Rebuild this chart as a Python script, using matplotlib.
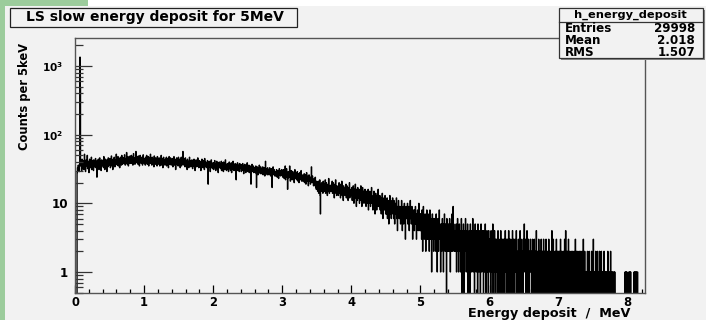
import numpy as np
import matplotlib
matplotlib.use('Agg')
import matplotlib.pyplot as plt
from matplotlib.patches import Rectangle
from matplotlib.lines import Line2D
from matplotlib.ticker import LogLocator, NullFormatter, FixedLocator

plt.rcParams['font.family'] = ['DejaVu Sans']
plt.rcParams['font.weight'] = 'bold'
plt.rcParams['mathtext.fontset'] = 'custom'
plt.rcParams['mathtext.rm'] = 'DejaVu Sans:bold'
plt.rcParams['mathtext.bf'] = 'DejaVu Sans:bold'
plt.rcParams['mathtext.it'] = 'DejaVu Sans:bold'

# ---------------- data (counts per 5 keV bin) ----------------
bin_width = 0.005
x_min, x_max = 0.0, 8.25
y_min, y_max = 0.494, 2560

counts_0_1 = [
    0, 0, 0, 0, 0, 0, 28, 33, 31, 36, 30, 34, 29, 37, 1350, 490, 35, 41, 38, 30,
    44, 36, 33, 39, 42, 31, 37, 52, 34, 38, 29, 40, 43, 36, 35, 50, 32, 39, 37, 41,
    28, 36, 44, 38, 33, 40, 35, 47, 31, 38, 42, 36, 39, 30, 43, 37, 34, 41, 38, 45,
    33, 40, 36, 24, 42, 38, 35, 44, 37, 31, 39, 46, 34, 38, 41, 30, 36, 43, 39, 35,
    42, 37, 33, 48, 36, 40, 31, 39, 44, 35, 38, 41, 29, 43, 37, 34, 46, 39, 36, 40,
    38, 45, 33, 41, 37, 49, 35, 42, 39, 31, 44, 40, 36, 47, 38, 34, 43, 41, 37, 52,
    39, 44, 36, 42, 48, 35, 40, 45, 38, 33, 43, 47, 39, 41, 36, 50, 42, 37, 44, 40,
    46, 38, 43, 51, 40, 36, 45, 42, 39, 55, 41, 37, 44, 48, 35, 42, 46, 40, 38, 49,
    41, 45, 38, 50, 43, 39, 47, 36, 44, 53, 42, 40, 46, 37, 45, 41, 57, 39, 43, 48,
    40, 44, 37, 49, 42, 46, 35, 43, 50, 39, 41, 45, 38, 47, 42, 36, 44, 51, 40, 43,
]
counts_1_2 = [
    38, 45, 41, 36, 47, 43, 39, 50, 42, 37, 44, 40, 48, 35, 43, 46, 39, 42, 52, 38,
    44, 40, 36, 47, 41, 38, 45, 43, 34, 49, 40, 42, 37, 46, 39, 44, 41, 35, 48, 42,
    39, 43, 37, 46, 40, 35, 44, 41, 38, 50, 36, 42, 39, 45, 33, 41, 47, 38, 40, 43,
    36, 44, 41, 38, 47, 35, 42, 39, 45, 40, 33, 43, 48, 37, 41, 39, 46, 42, 36, 44,
    40, 37, 45, 34, 42, 39, 48, 36, 41, 44, 38, 31, 43, 40, 46, 37, 39, 42, 35, 47,
    41, 36, 39, 44, 33, 42, 38, 47, 35, 40, 37, 43, 57, 39, 45, 36, 41, 38, 34, 46,
    39, 35, 42, 37, 31, 44, 38, 36, 41, 33, 40, 47, 35, 38, 42, 34, 39, 36, 43, 37,
    32, 41, 38, 35, 44, 37, 40, 30, 39, 36, 43, 38, 34, 41, 37, 46, 35, 39, 33, 42,
    38, 34, 41, 36, 30, 40, 37, 44, 35, 39, 33, 42, 36, 38, 31, 45, 37, 34, 40, 36,
    39, 33, 37, 42, 35, 19, 38, 36, 41, 34, 37, 29, 40, 35, 43, 33, 38, 36, 32, 39,
]
counts_2_3 = [
    36, 31, 39, 34, 42, 33, 37, 30, 38, 35, 41, 32, 36, 39, 28, 37, 34, 40, 35, 33,
    38, 32, 36, 41, 30, 35, 39, 33, 37, 29, 40, 34, 36, 31, 38, 43, 33, 35, 30, 37,
    34, 38, 31, 36, 29, 35, 40, 32, 33, 37, 30, 34, 39, 28, 35, 32, 36, 41, 31, 34,
    30, 36, 33, 38, 31, 35, 22, 37, 34, 32, 39, 30, 35, 33, 36, 29, 38, 32, 34, 37,
    33, 29, 36, 31, 34, 38, 30, 33, 27, 35, 32, 37, 30, 34, 28, 36, 33, 31, 39, 32,
    29, 34, 31, 36, 28, 33, 30, 35, 32, 19, 34, 31, 37, 29, 32, 30, 35, 28, 33, 31,
    33, 28, 31, 35, 27, 17, 30, 34, 29, 26, 33, 31, 28, 36, 30, 32, 27, 34, 29, 31,
    27, 32, 29, 34, 26, 30, 28, 33, 31, 25, 29, 41, 27, 30, 32, 28, 26, 33, 29, 31,
    30, 26, 29, 33, 27, 31, 25, 28, 32, 29, 17, 30, 27, 34, 28, 26, 31, 29, 25, 28,
    29, 25, 28, 31, 26, 24, 30, 27, 29, 23, 28, 32, 26, 27, 30, 25, 28, 26, 31, 27,
]
counts_3_4 = [
    28, 24, 27, 31, 25, 23, 29, 26, 35, 22, 27, 25, 32, 24, 28, 16, 23, 29, 25, 27,
    24, 35, 26, 21, 28, 25, 30, 27, 22, 26, 29, 23, 27, 25, 20, 26, 31, 24, 23, 28,
    26, 22, 25, 29, 23, 21, 27, 24, 20, 26, 28, 23, 25, 22, 30, 24, 21, 26, 23, 25,
    21, 25, 23, 27, 20, 24, 22, 26, 19, 23, 28, 21, 24, 22, 25, 18, 23, 26, 21, 24,
    22, 19, 24, 20, 34, 23, 21, 25, 20, 22, 18, 19, 23, 21, 18, 24, 20, 17, 16, 21,
    17, 20, 15, 18, 21, 14, 19, 16, 22, 13, 7, 17, 19, 15, 20, 16, 18, 14, 21, 17,
    16, 19, 15, 18, 22, 14, 17, 20, 16, 18, 13, 17, 19, 15, 23, 16, 14, 18, 17, 15,
    18, 15, 19, 16, 21, 14, 17, 20, 15, 18, 12, 16, 19, 15, 22, 14, 18, 13, 17, 16,
    15, 18, 13, 17, 20, 14, 16, 19, 12, 16, 18, 15, 21, 13, 17, 15, 11, 18, 16, 14,
    16, 13, 17, 14, 19, 12, 15, 18, 13, 16, 11, 15, 17, 14, 20, 12, 16, 13, 15, 14,
]
counts_4_5 = [
    13, 17, 11, 15, 12, 18, 14, 10, 16, 13, 15, 19, 12, 14, 9, 16, 13, 11, 17, 14,
    12, 14, 16, 10, 13, 15, 11, 18, 12, 14, 9, 13, 17, 11, 15, 12, 10, 14, 13, 16,
    11, 13, 9, 15, 12, 10, 14, 11, 16, 8, 12, 13, 10, 15, 11, 9, 13, 12, 17, 10,
    10, 12, 8, 13, 11, 15, 9, 11, 7, 12, 14, 10, 11, 8, 13, 10, 12, 16, 9, 11,
    9, 11, 13, 8, 10, 12, 7, 11, 9, 14, 10, 6, 11, 9, 12, 8, 10, 13, 9, 7,
    10, 7, 9, 12, 6, 8, 11, 9, 5, 10, 8, 13, 7, 9, 11, 6, 10, 8, 9, 12,
    7, 9, 6, 11, 8, 5, 9, 7, 10, 8, 12, 6, 8, 4, 9, 7, 11, 8, 6, 9,
    6, 8, 5, 9, 7, 11, 6, 4, 8, 7, 9, 5, 7, 10, 6, 8, 3, 7, 9, 6,
    6, 8, 10, 5, 7, 9, 6, 4, 8, 7, 11, 6, 8, 5, 7, 9, 6, 3, 7, 8,
    5, 7, 4, 8, 6, 9, 5, 6, 3, 7, 5, 8, 6, 4, 7, 10, 5, 6, 4, 7,
]
counts_5_6 = [
    4, 7, 5, 3, 8, 6, 2, 5, 9, 4, 6, 3, 5, 7, 4, 2, 6, 5, 8, 3,
    5, 3, 6, 4, 7, 2, 5, 8, 4, 3, 6, 5, 1, 4, 7, 3, 5, 6, 2, 4,
    3, 6, 4, 5, 2, 7, 4, 3, 1, 5, 6, 4, 2, 3, 8, 4, 5, 3, 1, 4,
    5, 2, 4, 6, 3, 4, 1, 5, 3, 7, 4, 2, 5, 3, 4, 0, 6, 3, 4, 2,
    3, 5, 2, 4, 6, 3, 1, 4, 5, 2, 3, 7, 4, 2, 9, 3, 5, 4, 2, 3,
    4, 2, 3, 5, 1, 4, 3, 6, 2, 3, 1, 4, 5, 2, 3, 4, 1, 3, 6, 2,
    0, 4, 1, 3, 5, 2, 0, 3, 4, 2, 6, 3, 1, 4, 2, 3, 5, 0, 3, 2,
    2, 4, 3, 0, 5, 2, 3, 1, 4, 3, 2, 6, 1, 3, 2, 4, 0, 3, 5, 2,
    3, 1, 4, 2, 3, 0, 5, 2, 3, 1, 2, 4, 3, 0, 2, 5, 3, 1, 2, 4,
    2, 3, 0, 4, 2, 1, 3, 5, 2, 0, 3, 2, 4, 1, 3, 2, 0, 4, 2, 3,
]
counts_6_7 = [
    1, 3, 2, 0, 4, 2, 3, 1, 2, 5, 0, 2, 3, 1, 4, 2, 0, 3, 2, 1,
    3, 2, 0, 1, 4, 2, 3, 0, 2, 1, 3, 2, 4, 0, 2, 1, 3, 2, 0, 3,
    2, 0, 3, 1, 2, 4, 1, 2, 0, 3, 2, 1, 3, 0, 2, 4, 1, 2, 3, 0,
    1, 3, 2, 0, 2, 1, 4, 2, 0, 3, 1, 2, 0, 3, 2, 1, 2, 4, 0, 2,
    2, 1, 0, 3, 2, 1, 2, 0, 4, 1, 2, 3, 0, 2, 1, 2, 0, 3, 1, 2,
    5, 2, 1, 3, 2, 0, 1, 2, 4, 1, 0, 2, 3, 1, 2, 0, 2, 1, 3, 2,
    1, 2, 0, 2, 3, 1, 0, 2, 1, 3, 2, 0, 1, 2, 0, 4, 1, 2, 1, 0,
    2, 1, 3, 0, 1, 2, 0, 2, 1, 3, 0, 1, 2, 2, 0, 1, 3, 1, 0, 2,
    1, 0, 2, 3, 1, 0, 2, 1, 0, 2, 1, 3, 0, 1, 2, 0, 1, 2, 1, 0,
    4, 1, 0, 1, 3, 0, 2, 1, 1, 0, 2, 0, 1, 3, 1, 0, 2, 1, 0, 2,
]
counts_7_8 = [
    1, 0, 2, 1, 0, 3, 1, 2, 0, 1, 1, 0, 2, 1, 0, 2, 1, 3, 0, 1,
    4, 2, 1, 1, 0, 2, 0, 1, 3, 1, 0, 1, 2, 0, 1, 0, 2, 1, 1, 0,
    2, 0, 1, 0, 2, 1, 1, 0, 3, 1, 0, 2, 1, 0, 1, 2, 0, 1, 1, 2,
    0, 1, 2, 0, 1, 1, 0, 2, 1, 0, 1, 3, 0, 1, 0, 2, 1, 0, 1, 1,
    1, 0, 1, 2, 0, 1, 0, 1, 2, 0, 1, 0, 1, 1, 0, 2, 0, 1, 0, 1,
    3, 0, 1, 0, 1, 1, 0, 2, 0, 1, 0, 1, 2, 0, 1, 0, 1, 0, 2, 1,
    0, 1, 0, 2, 1, 0, 1, 0, 1, 1, 0, 2, 0, 1, 0, 1, 0, 1, 0, 1,
    1, 0, 2, 0, 1, 0, 1, 0, 0, 1, 2, 0, 1, 0, 0, 1, 0, 1, 0, 0,
    1, 0, 1, 0, 0, 0, 0, 0, 0, 0, 0, 0, 0, 0, 0, 0, 0, 0, 0, 0,
    0, 0, 0, 0, 0, 0, 0, 0, 0, 0, 0, 0, 1, 0, 1, 1, 0, 1, 0, 0,
]
counts_8_825 = [
    0, 0, 0, 1, 0, 1, 1, 0, 1, 0, 0, 0, 0, 0, 0, 0, 0, 0, 1, 0,
    1, 1, 0, 1, 1, 0, 1, 1, 1, 0, 0, 0, 0, 0, 0, 0, 0, 0, 0, 0,
    0, 0, 0, 0, 0, 0, 0, 0, 0, 0,
]

x_ticks = [0, 1, 2, 3, 4, 5, 6, 7, 8]
y_ticks = [1, 10, 100, 1000]
y_tick_labels = ['1', '10', '10$^{2}$  ', '10$^{3}$  ']

title_text = 'LS slow energy deposit for 5MeV'
x_label = 'Energy deposit  /  MeV'
y_label = 'Counts per 5keV'
stats_name = 'h_energy_deposit'
stats_rows = [('Entries', '29998'), ('Mean', '2.018'), ('RMS', '1.507')]

counts = np.array(counts_0_1 + counts_1_2 + counts_2_3 + counts_3_4 + counts_4_5
                  + counts_5_6 + counts_6_7 + counts_7_8 + counts_8_825, dtype=float)
edges = x_min + bin_width * np.arange(len(counts) + 1)
# zero bins drop below the visible log range (as ROOT draws them)
draw_vals = np.where(counts > 0, counts, 0.05)

# ---------------- figure ----------------
W, H = 706, 320
CANVAS = '#f2f2f2'
fig = plt.figure(figsize=(W / 100, H / 100), dpi=100)
fig.patch.set_facecolor('white')


def prect(x0, y0, x1, y1, **kw):
    r = Rectangle((x0 / W, 1 - y1 / H), (x1 - x0) / W, (y1 - y0) / H,
                  transform=fig.transFigure, **kw)
    fig.add_artist(r)
    return r


prect(5, 6, W, H, facecolor=CANVAS, edgecolor='none', zorder=-3)
prect(0, 0, 5, H, facecolor='#9ccc9c', edgecolor='none', zorder=-2)
prect(0, 0, 88, 6, facecolor='#9ccc9c', edgecolor='none', zorder=-2)

ax = fig.add_axes([75 / W, 1 - 293 / H, (645 - 75) / W, (293 - 38) / H])
ax.set_facecolor(CANVAS)
ax.stairs(draw_vals, edges, color='black', lw=0.95, baseline=None)
ax.set_yscale('log')
ax.set_xlim(x_min, x_max)
ax.set_ylim(y_min, y_max)

for s in ax.spines.values():
    s.set_color('#555555')
    s.set_linewidth(1.0)

ax.xaxis.set_major_locator(FixedLocator(x_ticks))
ax.xaxis.set_minor_locator(FixedLocator(np.arange(0, 8.25, 0.2)))
ax.set_xticklabels([str(v) for v in x_ticks])
ax.yaxis.set_major_locator(FixedLocator(y_ticks))
ax.yaxis.set_minor_locator(LogLocator(base=10, subs=np.arange(2, 10)))
ax.yaxis.set_minor_formatter(NullFormatter())
ax.set_yticklabels(y_tick_labels)

ax.tick_params(axis='x', which='major', direction='in', length=6, width=0.9,
               color='black', labelsize=8.3, pad=2)
ax.tick_params(axis='x', which='minor', direction='in', length=3, width=0.9, color='black')
ax.tick_params(axis='y', which='major', direction='in', length=12.5, width=0.9,
               color='#333333', labelsize=8.6, pad=5)
ax.tick_params(axis='y', which='minor', direction='in', length=6, width=0.9, color='#333333')
for lbl in ax.get_xticklabels() + ax.get_yticklabels():
    lbl.set_fontweight('bold')
for lbl in ax.get_yticklabels():
    if '$' in lbl.get_text():
        lbl.set_fontsize(7.6)

fig.text(25 / W, 1 - 43 / H, y_label, rotation=90, ha='center', va='top',
         fontsize=8.3, fontweight='bold')
fig.text(630 / W, 1 - 317.5 / H, x_label, ha='right', va='baseline',
         fontsize=9.2, fontweight='bold')

# title box
prect(10, 8, 297, 27, facecolor=CANVAS, edgecolor='#222222', lw=0.9, zorder=5)
fig.text(155 / W, 1 - 17.5 / H, title_text, ha='center', va='center',
         fontsize=10, fontweight='bold', zorder=6)

# stats box
prect(561, 10, 705, 60, facecolor='#888888', edgecolor='none', zorder=5)
prect(559, 8, 703, 58, facecolor=CANVAS, edgecolor='#333333', lw=0.9, zorder=6)
fig.add_artist(Line2D([559 / W, 703 / W], [1 - 22.2 / H, 1 - 22.2 / H],
                      transform=fig.transFigure, color='#333333', lw=0.9, zorder=7))
fig.text(630 / W, 1 - 17.3 / H, stats_name, ha='center', va='baseline',
         fontsize=8.2, fontweight='bold', zorder=8)
for i, (k, v) in enumerate(stats_rows):
    yy = 1 - (32.0 + 12.2 * i) / H
    fig.text(565 / W, yy, k, ha='left', va='baseline', fontsize=8.6,
             fontweight='bold', zorder=8)
    fig.text(695 / W, yy, v, ha='right', va='baseline', fontsize=8.6,
             fontweight='bold', zorder=8)

fig.savefig('out.png', dpi=100, facecolor=fig.get_facecolor())
